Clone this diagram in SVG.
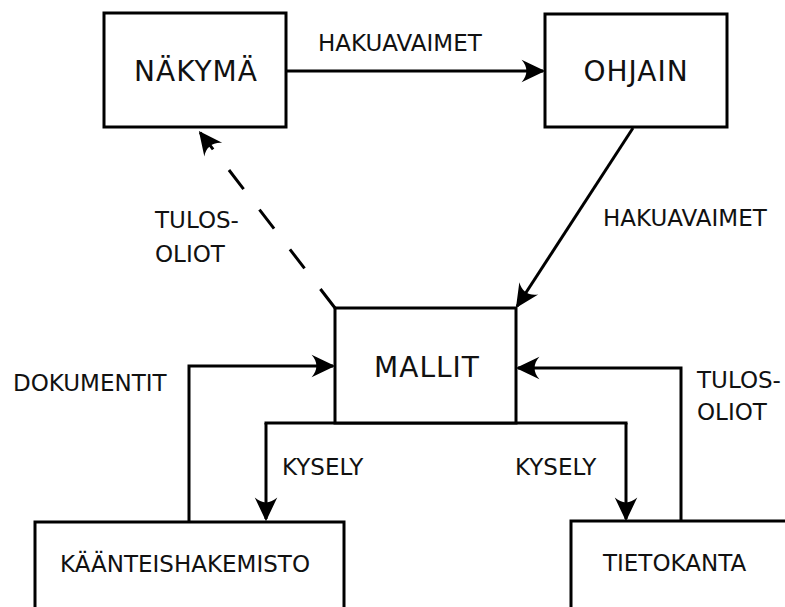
<svg xmlns="http://www.w3.org/2000/svg" width="785" height="607" viewBox="0 0 785 607">
  <defs>
    <style>
      .box { fill: #ffffff; stroke: #000000; stroke-width: 3; }
      .link { fill: none; stroke: #000000; stroke-width: 3; marker-end: url(#head); }
      .dash { stroke-dasharray: 24 26; }
      .title { font-family: "DejaVu Sans", Verdana, sans-serif; font-size: 28px; letter-spacing: 1px; fill: #111111; text-anchor: middle; }
      .label { font-family: "DejaVu Sans", Verdana, sans-serif; font-size: 23px; fill: #111111; }
    </style>
    <!-- filled arrowhead with a concave back; tip sits 2px past the line end -->
    <marker id="head" markerUnits="userSpaceOnUse" orient="auto" refX="0" refY="0" markerWidth="30" markerHeight="30" viewBox="-24 -12 28 24" overflow="visible">
      <path d="M2,0 L-20,-10.5 C-14,-4 -14,4 -20,10.5 Z" fill="#000000"/>
    </marker>
  </defs>

  <rect width="785" height="607" fill="#ffffff"/>

  <g id="connectors">
    <!-- view sends search keys to the controller -->
    <path class="link" d="M286,71 H543"/>
    <!-- controller passes search keys to the model -->
    <path class="link" d="M633,128 L517.1,306.3"/>
    <!-- model returns result objects to the view -->
    <path class="link dash" d="M335,308 L200.2,132.6"/>
    <!-- index delivers documents to the model -->
    <path class="link" d="M189,522 V366 H333"/>
    <!-- database returns result objects to the model -->
    <path class="link" d="M681,521 V368 H518"/>
    <!-- model queries the index and the database -->
    <path class="link" d="M266,423 V519"/>
    <path class="link" d="M626,423 V519"/>
    <path fill="none" stroke="#000000" stroke-width="3" d="M264.5,423 H627.5"/>
  </g>

  <g id="nakyma">
    <rect class="box" x="104" y="13" width="182" height="114"/>
    <text class="title" x="196" y="81">NÄKYMÄ</text>
  </g>

  <g id="ohjain">
    <rect class="box" x="545" y="14" width="182" height="113"/>
    <text class="title" x="636" y="81">OHJAIN</text>
  </g>

  <g id="mallit">
    <rect class="box" x="335" y="308" width="181" height="115"/>
    <text class="title" x="427" y="377">MALLIT</text>
  </g>

  <g id="kaanteishakemisto">
    <rect class="box" x="35" y="522" width="309" height="120"/>
    <text class="label" x="60" y="572">KÄÄNTEISHAKEMISTO</text>
  </g>

  <g id="tietokanta">
    <rect class="box" x="571" y="521" width="240" height="120"/>
    <text class="label" x="603" y="571">TIETOKANTA</text>
  </g>

  <g id="labels">
    <text class="label" x="318" y="51">HAKUAVAIMET</text>
    <text class="label" x="603" y="226">HAKUAVAIMET</text>
    <text class="label" x="155" y="228">TULOS-</text>
    <text class="label" x="155" y="262">OLIOT</text>
    <text class="label" x="13" y="391">DOKUMENTIT</text>
    <text class="label" x="697" y="388">TULOS-</text>
    <text class="label" x="697" y="420">OLIOT</text>
    <text class="label" x="282" y="475">KYSELY</text>
    <text class="label" x="515" y="475">KYSELY</text>
  </g>
</svg>
